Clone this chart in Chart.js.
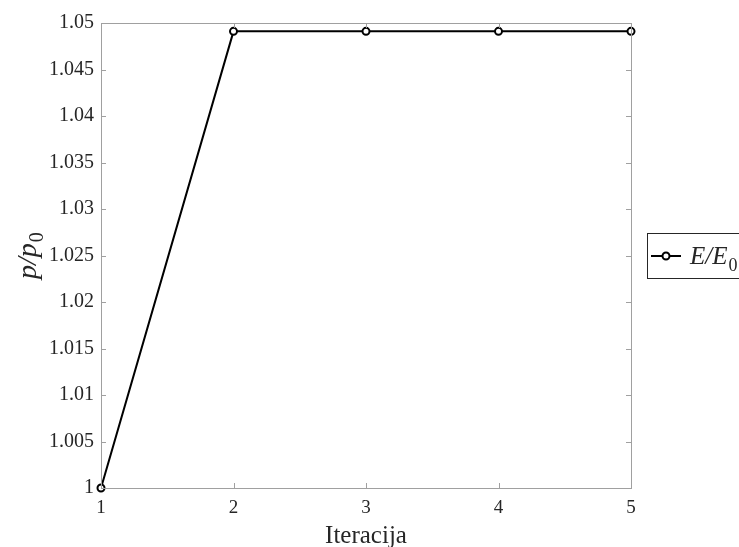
<!DOCTYPE html>
<html>
<head>
<meta charset="utf-8">
<script src="https://cdn.jsdelivr.net/npm/chart.js@4"></script>
<style>
  html, body { margin: 0; padding: 0; background: #fff; }
  #chart { display: block; }
</style>
</head>
<body>
<canvas id="chart" width="739" height="547"></canvas>
<script>
// data
const iterations = [1, 2, 3, 4, 5];
const ratioValues = [1.0, 1.0491, 1.0491, 1.0491, 1.0491];
const xTicks = [1, 2, 3, 4, 5];
const yTicks = [1, 1.005, 1.01, 1.015, 1.02, 1.025, 1.03, 1.035, 1.04, 1.045, 1.05];

const axisColor = '#a0a0a0';
const textColor = '#262626';
const serif = '"Liberation Serif", "Times New Roman", serif';

// inward ticks, box, axis titles and the clipped legend, MATLAB style
const matlabAxes = {
    id: 'matlabAxes',
    afterDraw(chart) {
        const ctx = chart.ctx;
        const a = chart.chartArea;
        const xs = chart.scales.x;
        const ys = chart.scales.y;
        ctx.save();

        ctx.strokeStyle = axisColor;
        ctx.lineWidth = 1;
        ctx.strokeRect(Math.round(a.left) + 0.5, Math.round(a.top) + 0.5,
            Math.round(a.right - a.left), Math.round(a.bottom - a.top));

        ctx.beginPath();
        xTicks.forEach(v => {
            const px = Math.round(xs.getPixelForValue(v)) + 0.5;
            ctx.moveTo(px, a.bottom); ctx.lineTo(px, a.bottom - 5);
            ctx.moveTo(px, a.top); ctx.lineTo(px, a.top + 5);
        });
        yTicks.forEach(v => {
            const py = Math.round(ys.getPixelForValue(v)) + 0.5;
            ctx.moveTo(a.left, py); ctx.lineTo(a.left + 5, py);
            ctx.moveTo(a.right, py); ctx.lineTo(a.right - 5, py);
        });
        ctx.stroke();

        // y title p/p0
        ctx.fillStyle = textColor;
        ctx.translate(36, 279);
        ctx.rotate(-Math.PI / 2);
        ctx.textBaseline = 'alphabetic';
        ctx.font = 'italic 28px ' + serif;
        ctx.fillText('p/p', 0, 0);
        const w = ctx.measureText('p/p').width;
        ctx.font = '20px ' + serif;
        ctx.fillText('0', w + 1, 7);
        ctx.setTransform(1, 0, 0, 1, 0, 0);

        // legend, runs off the right edge
        const lx = 647, ly = 233, lh = 45;
        ctx.fillStyle = '#fff';
        ctx.fillRect(lx, ly, 200, lh);
        ctx.strokeStyle = '#262626';
        ctx.lineWidth = 1;
        ctx.strokeRect(lx + 0.5, ly + 0.5, 200, lh);
        const cy = ly + 23;
        ctx.strokeStyle = '#000';
        ctx.lineWidth = 2;
        ctx.beginPath();
        ctx.moveTo(651, cy); ctx.lineTo(681, cy);
        ctx.stroke();
        ctx.fillStyle = '#fff';
        ctx.beginPath();
        ctx.arc(666, cy, 3.5, 0, Math.PI * 2);
        ctx.fill();
        ctx.stroke();
        ctx.fillStyle = textColor;
        ctx.font = 'italic 25px ' + serif;
        ctx.fillText(chart.data.datasets[0].label, 690, cy + 8);
        const lw = ctx.measureText(chart.data.datasets[0].label).width;
        ctx.font = '18px ' + serif;
        ctx.fillText('0', 690 + lw + 1, cy + 15);

        ctx.restore();
    }
};

const ctx = document.getElementById('chart').getContext('2d');
new Chart(ctx, {
    type: 'line',
    data: {
        datasets: [{
            label: 'E/E',
            data: iterations.map((x, i) => ({ x: x, y: ratioValues[i] })),
            borderColor: '#000',
            borderWidth: 2,
            pointRadius: 3.5,
            pointBorderWidth: 2,
            pointBackgroundColor: '#fff',
            pointBorderColor: '#000',
            tension: 0,
            fill: false,
            clip: false
        }]
    },
    options: {
        responsive: false,
        animation: false,
        layout: { padding: { left: 0, top: 23, right: 108, bottom: 0 } },
        plugins: { legend: { display: false }, tooltip: { enabled: false } },
        scales: {
            x: {
                type: 'linear',
                min: 1,
                max: 5,
                afterBuildTicks: s => { s.ticks = xTicks.map(v => ({ value: v })); },
                afterFit: s => { s.height = 59; },
                grid: { display: false, drawTicks: false },
                border: { display: false },
                ticks: {
                    color: textColor,
                    font: { family: serif, size: 19 },
                    padding: 9,
                    maxRotation: 0
                },
                title: {
                    display: true,
                    text: 'Iteracija',
                    color: textColor,
                    font: { family: serif, size: 25 },
                    padding: { top: 0, bottom: -4 }
                }
            },
            y: {
                min: 1,
                max: 1.05,
                afterBuildTicks: s => { s.ticks = yTicks.map(v => ({ value: v })); },
                afterFit: s => { s.width = 101; },
                grid: { display: false, drawTicks: false },
                border: { display: false },
                ticks: {
                    color: textColor,
                    font: { family: serif, size: 20 },
                    padding: 7,
                    callback: v => String(+v.toFixed(3))
                }
            }
        }
    },
    plugins: [matlabAxes]
});
</script>
</body>
</html>
